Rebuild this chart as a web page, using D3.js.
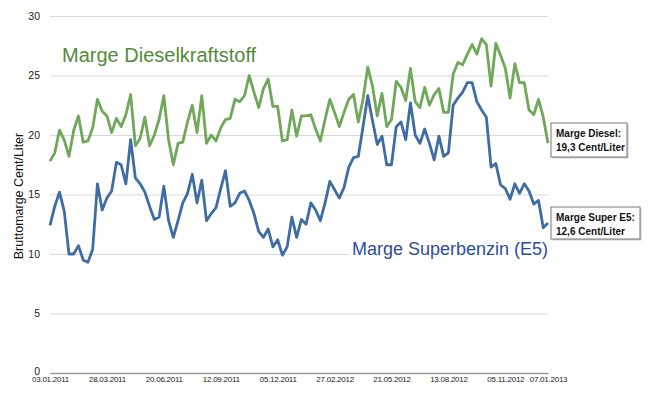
<!DOCTYPE html>
<html>
<head>
<meta charset="utf-8">
<script src="https://cdn.jsdelivr.net/npm/d3@7/dist/d3.min.js"></script>
<style>
  html, body { margin: 0; padding: 0; background: #fff; }
  svg { display: block; font-family: "Liberation Sans", Arial, Helvetica, sans-serif; }
</style>
</head>
<body>
<svg id="chart" width="650" height="396"></svg>
<script>
// ---- data ----
const startDate = "03.01.2011";
const endDate = "07.01.2013";
const xTickLabels = ["03.01.2011", "28.03.2011", "20.06.2011", "12.09.2011", "05.12.2011",
  "27.02.2012", "21.05.2012", "13.08.2012", "05.11.2012", "07.01.2013"];
const yTicks = [0, 5, 10, 15, 20, 25, 30];

// weekly gross margin, Diesel (cent/litre)
const diesel = [
  17.8, 18.5, 20.4, 19.6, 18.2, 20.4, 21.6, 19.4, 19.5, 20.6,
  23.0, 22.0, 21.6, 20.2, 21.4, 20.7, 21.7, 23.4, 19.1, 19.7,
  21.5, 19.1, 20.0, 21.3, 23.3, 19.6, 17.5, 19.3, 19.4, 21.1,
  22.5, 20.2, 23.3, 19.3, 20.0, 19.5, 20.6, 21.3, 21.4, 23.0,
  22.8, 23.3, 25.0, 23.6, 22.3, 23.9, 24.7, 22.4, 22.4, 19.5,
  19.6, 22.1, 19.9, 21.6, 21.6, 21.7, 20.5, 19.5, 21.3, 23.0,
  21.9, 20.7, 21.9, 23.0, 23.4, 21.1, 23.0, 25.7, 24.1, 21.6,
  23.5, 20.7, 21.3, 24.5, 24.0, 22.9, 25.6, 22.8, 22.3, 24.0,
  22.5, 23.4, 23.9, 21.9, 21.9, 25.1, 26.1, 25.9, 26.8, 27.6,
  26.8, 28.1, 27.6, 24.1, 27.7, 26.7, 25.6, 23.1, 26.0, 24.4,
  24.4, 22.1, 21.7, 23.0, 21.5, 19.3
];
// weekly gross margin, Super E5 (cent/litre)
const superE5 = [
  12.4, 14.0, 15.2, 13.6, 10.0, 10.0, 10.7, 9.5, 9.3, 10.4,
  15.9, 13.7, 14.7, 15.3, 17.7, 17.5, 15.9, 19.6, 16.4, 15.9,
  15.2, 14.0, 12.9, 13.1, 15.7, 12.8, 11.4, 12.8, 14.3, 15.1,
  16.7, 14.3, 16.2, 12.8, 13.4, 13.9, 15.5, 17.0, 14.0, 14.3,
  15.1, 15.3, 14.5, 13.4, 11.9, 11.4, 12.1, 10.6, 11.2, 9.9,
  10.6, 13.1, 11.4, 12.9, 12.5, 14.3, 13.7, 12.8, 14.3, 16.1,
  15.4, 14.7, 15.6, 17.3, 18.1, 18.2, 20.7, 23.3, 21.2, 19.2,
  19.9, 17.5, 17.5, 20.7, 21.1, 19.6, 22.7, 20.0, 19.3, 20.5,
  19.3, 17.9, 19.9, 18.2, 18.5, 22.5, 23.1, 23.6, 24.4, 24.4,
  22.8, 22.1, 21.5, 17.3, 17.6, 15.8, 15.5, 14.6, 15.9, 15.1,
  15.9, 15.3, 14.2, 14.5, 12.2, 12.6
];
const yTitle = "Bruttomarge Cent/Liter";
const dieselTitle = "Marge Dieselkraftstoff";
const superTitle = "Marge Superbenzin (E5)";
const dieselNote = ["Marge Diesel:", "19,3 Cent/Liter"];
const superNote = ["Marge Super E5:", "12,6 Cent/Liter"];

// ---- drawing ----
(function () {
const parse = d3.timeParse("%d.%m.%Y");
const fmt = d3.timeFormat("%d.%m.%Y");
const t0 = parse(startDate);
const dates = diesel.map((_, i) => d3.timeDay.offset(t0, 7 * i));

const svg = d3.select("#chart");
const mLeft = 50, mRight = 548, mTop = 16, mBottom = 373;

const x = d3.scaleTime().domain([t0, parse(endDate)]).range([mLeft, mRight]);
const y = d3.scaleLinear().domain([0, 30]).range([mBottom, mTop]);

// y grid + labels
const gy = svg.append("g").attr("transform", `translate(${mLeft},0)`)
  .call(d3.axisLeft(y).tickValues(yTicks).tickSize(-(mRight - mLeft)).tickPadding(10).tickFormat(d3.format("d")));
gy.select(".domain").remove();
gy.selectAll(".tick line").attr("stroke", "#d9d9d9").attr("stroke-width", 1.2);
gy.selectAll(".tick text").attr("fill", "#222").style("font-size", "10.5px");
gy.selectAll(".tick").filter(d => d === 0).select("text").attr("dy", "0.1em");

// x axis
const gx = svg.append("g").attr("transform", `translate(0,${mBottom})`)
  .call(d3.axisBottom(x).tickValues(xTickLabels.map(parse)).tickSize(0).tickSizeOuter(0).tickPadding(3.5)
    .tickFormat(d => fmt(d)));
gx.select(".domain").attr("stroke", "#9a9a9a").attr("stroke-width", 1.6);
gx.selectAll(".tick text").attr("fill", "#222").style("font-size", "8px").style("letter-spacing", "-0.25px");

// y title
svg.append("text")
  .attr("transform", `translate(22.5,196) rotate(-90)`)
  .attr("text-anchor", "middle")
  .style("font-size", "12.5px").attr("fill", "#111")
  .text(yTitle);

// lines
const line = d3.line().x((d, i) => x(dates[i])).y(d => y(d));
svg.append("path").datum(diesel).attr("d", line)
  .attr("fill", "none").attr("stroke", "#70a85a").attr("stroke-width", 2.8).attr("stroke-linejoin", "round");
svg.append("path").datum(superE5).attr("d", line)
  .attr("fill", "none").attr("stroke", "#3e6ca3").attr("stroke-width", 2.8).attr("stroke-linejoin", "round");

// series titles
svg.append("text").attr("x", 62).attr("y", 62)
  .style("font-size", "20px").attr("fill", "#558a3a").text(dieselTitle);
const st = svg.append("g");
st.append("rect").attr("x", 349).attr("y", 238).attr("width", 200).attr("height", 22).attr("fill", "#fff");
st.append("text").attr("x", 352).attr("y", 255)
  .style("font-size", "18px").attr("fill", "#2c4e9c").text(superTitle);

// annotation boxes
function note(x0, y0, w, h, lines) {
  const g = svg.append("g");
  g.append("rect").attr("x", x0 + 1.5).attr("y", y0 + 1.5).attr("width", w).attr("height", h).attr("fill", "#ccc");
  g.append("rect").attr("x", x0).attr("y", y0).attr("width", w).attr("height", h)
    .attr("fill", "#fff").attr("stroke", "#777").attr("stroke-width", 1);
  lines.forEach((t, i) => g.append("text").attr("x", x0 + 5).attr("y", y0 + 14 + i * 14)
    .style("font-size", "10px").style("font-weight", "bold").attr("fill", "#111").text(t));
}
note(551, 123, 76, 34, dieselNote);
note(551, 207, 89, 32, superNote);
})();
</script>
</body>
</html>
